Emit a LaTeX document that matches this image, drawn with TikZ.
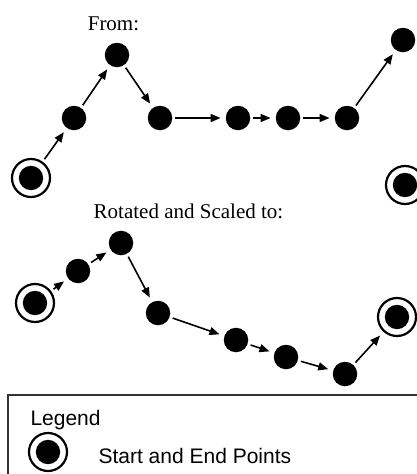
\documentclass[tikz,border=0pt]{standalone}
\usepackage{fontspec}
\setmainfont{Liberation Serif}
\setsansfont{Liberation Sans}
\usetikzlibrary{arrows.meta}

\begin{document}
\begin{tikzpicture}[x=1pt,y=-1pt,
  dot/.style={circle,fill=black,inner sep=0pt,minimum size=24.5pt},
  endpt/.style={circle,draw=black,line width=2.2pt,inner sep=0pt,minimum size=38pt,
    path picture={\fill[black] (path picture bounding box.center) circle (12.2pt);}},
  arr/.style={-{Triangle[length=10pt,width=8pt]},line width=1.6pt,shorten <=3pt,shorten >=5pt},
  title/.style={font=\fontsize{21}{25}\selectfont,anchor=base},
  legtext/.style={font=\sffamily\fontsize{21}{25}\selectfont,anchor=base west}]
\useasboundingbox (0,0) rectangle (417,474);
\clip (0,0) rectangle (417,474);
% original path
\node[title] (from) at (113.5,30) {From:};
\node[endpt] (s1) at (31,178) {};
\node[dot] (a1) at (74,118) {};
\node[dot] (a2) at (117,55) {};
\node[dot] (a3) at (160,118) {};
\node[dot] (a4) at (238,118) {};
\node[dot] (a5) at (288,118) {};
\node[dot] (a6) at (347,118) {};
\node[dot] (a7) at (403,40) {};
\node[endpt] (e1) at (405,185) {};
\draw[arr] (s1)--(a1); \draw[arr] (a1)--(a2); \draw[arr] (a2)--(a3); \draw[arr] (a3)--(a4);
\draw[arr] (a4)--(a5); \draw[arr] (a5)--(a6); \draw[arr] (a6)--(a7);
% rotated and scaled path
\node[title] (to) at (188.5,218) {Rotated and Scaled to:};
\node[endpt] (s2) at (35,303) {};
\node[dot] (b1) at (78,271) {};
\node[dot] (b2) at (121,243) {};
\node[dot] (b3) at (158,313) {};
\node[dot] (b4) at (236,340) {};
\node[dot] (b5) at (286,357) {};
\node[dot] (b6) at (345,374) {};
\node[endpt] (e2) at (397,317) {};
\draw[arr] (s2)--(b1); \draw[arr] (b1)--(b2); \draw[arr] (b2)--(b3); \draw[arr] (b3)--(b4);
\draw[arr] (b4)--(b5); \draw[arr] (b5)--(b6); \draw[arr] (b6)--(e2);
% legend
\draw[line width=1.5pt,black!80] (8,395) rectangle (425,480);
\node[legtext] (leg) at (27,425) {Legend};
\node[endpt] (lpt) at (48,452) {};
\node[legtext] (ltxt) at (95,463) {Start and End Points};
\end{tikzpicture}
\end{document}
